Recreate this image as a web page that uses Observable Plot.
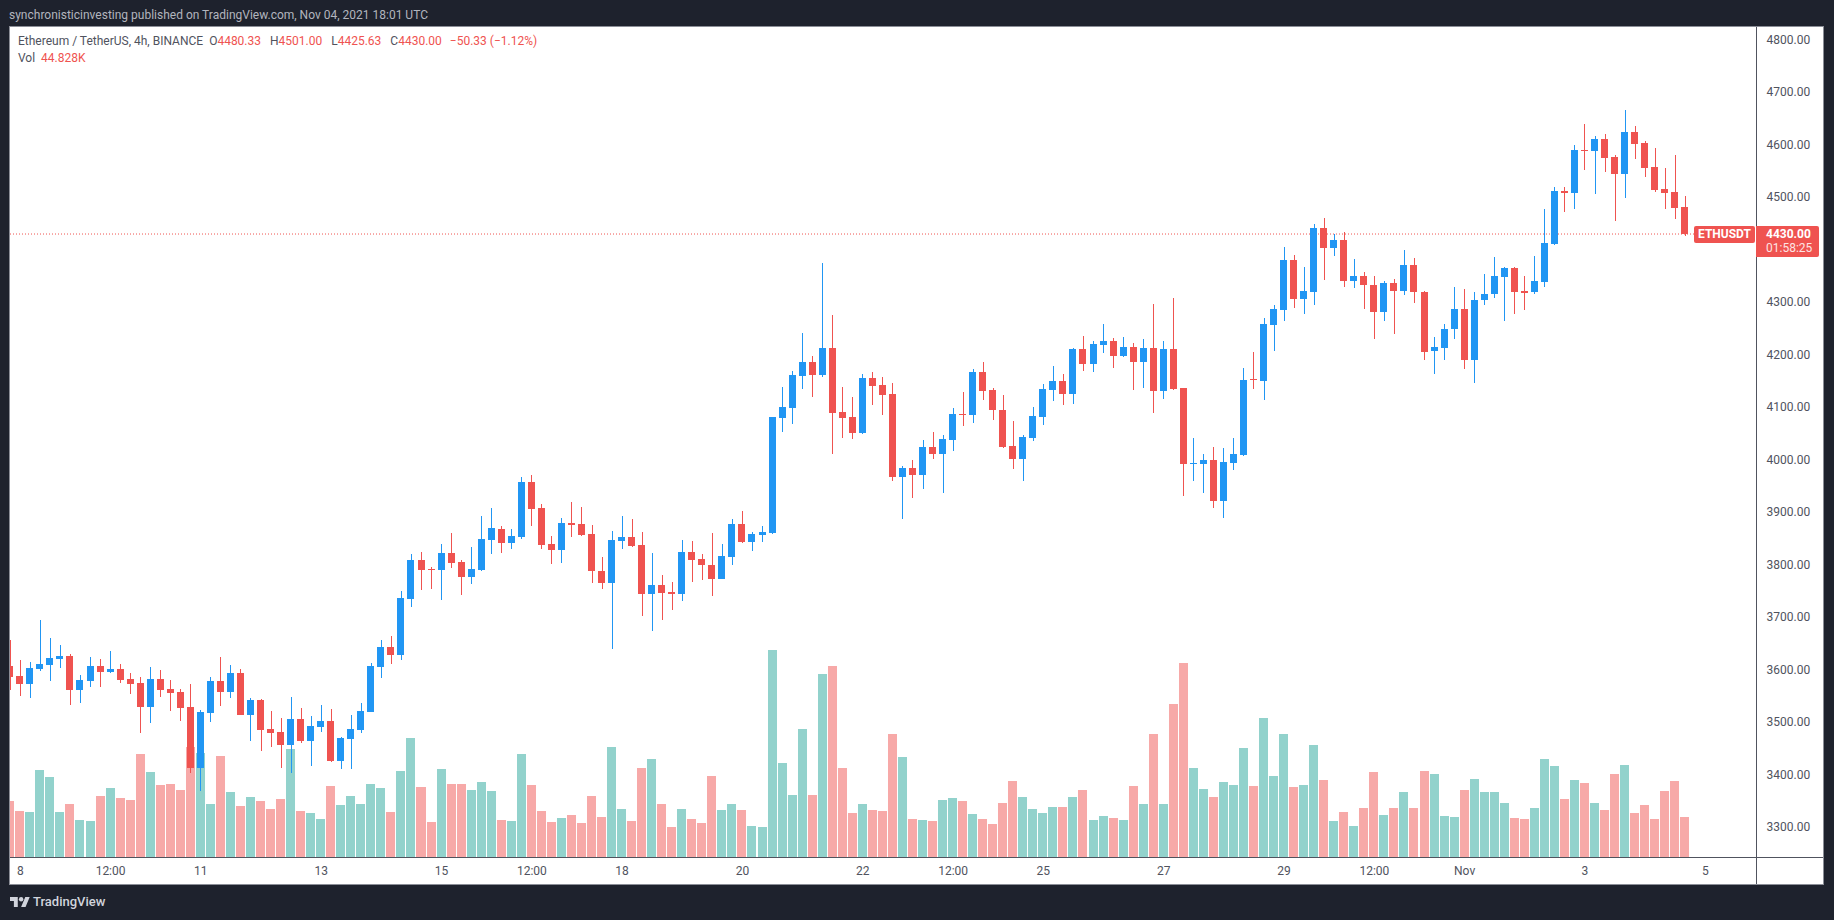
<!DOCTYPE html>
<html><head><meta charset="utf-8">
<script src="https://cdn.jsdelivr.net/npm/d3@7"></script>
<script src="https://cdn.jsdelivr.net/npm/@observablehq/plot@0.6"></script>
<style>
html,body{margin:0;padding:0;background:#1e222d;width:1834px;height:920px;overflow:hidden;font-family:Roboto,"Noto Sans",sans-serif;}
#title{position:absolute;left:9px;top:7px;font-size:12px;line-height:16px;color:#b2b5be;white-space:pre;}
#panel{position:absolute;left:9px;top:26px;width:1813px;height:857px;background:#fff;border:1px solid #8b8e97;overflow:hidden;}
#panel svg{position:absolute;left:0;top:0;}
.vline{position:absolute;left:1746px;top:0;width:1px;height:857px;background:#50535e;}
.hline{position:absolute;left:0;top:830px;width:1813px;height:1px;background:#50535e;}
#legend{position:absolute;left:8px;top:6px;font-size:12px;line-height:17px;color:#50535e;white-space:pre;}
#legend .v{color:#ef5350;}
#legend .k{margin-left:6px;}
#legend .k2{margin-left:9px;}
.tag{position:absolute;background:#ef5350;color:#fff;border-radius:2px;font-size:12px;font-weight:bold;}
#logo{position:absolute;left:10px;top:894px;display:flex;align-items:center;color:#d1d4dc;font-size:13px;font-weight:500;}
#logo svg{margin-right:3px;}
</style></head>
<body>
<div id="title">synchronisticinvesting published on TradingView.com, Nov 04, 2021 18:01 UTC</div>
<div id="panel"></div>
<div id="logo"><svg width="20" height="10" viewBox="0 4 36 18"><path d="M14 22H7V11H0V4h14v18zM28 22h-8l7.5-18h8L28 22z" fill="#d1d4dc"/><circle cx="20" cy="8" r="4" fill="#d1d4dc"/></svg>TradingView</div>
<script>
// ---- data: ETH/USDT 4h candles, Oct 7 20:00 -> Nov 4 16:00 (UTC) ----
const symbolName = "Ethereum / TetherUS, 4h, BINANCE";
const tickerName = "ETHUSDT";
const countdown = "01:58:25";
const opens = [
 3606.0,3587.8,3572.5,3601.1,3608.7,3620.1,3625.2,3561.1,3578.2,3606.2,
 3595.4,3600.5,3581.4,3573.8,3528.7,3581.4,3562.4,3556.6,3528.7,3412.5,
 3517.3,3577.6,3557.3,3592.8,3513.5,3541.4,3486.2,3480.4,3456.3,3505.2,
 3463.9,3490.6,3501.4,3425.8,3467.7,3484.9,3519.2,3604.9,3642.4,3627.8,
 3734.4,3808.1,3791.6,3789.7,3821.4,3804.3,3776.3,3789.7,3846.8,3867.2,
 3841.1,3852.6,3956.7,3907.2,3838.6,3827.8,3878.6,3876.6,3857.4,3787.0,
 3764.8,3845.2,3852.1,3836.8,3744.2,3760.2,3747.2,3744.2,3823.0,3810.0,
 3798.5,3772.5,3814.6,3876.6,3842.1,3855.9,3859.7,4078.6,4097.8,4159.0,
 4185.0,4160.6,4211.8,4090.1,4080.2,4050.3,4154.9,4141.8,4124.3,3965.3,
 3983.6,3970.4,4023.7,4010.5,4037.5,4086.4,4083.4,4166.5,4132.3,4093.6,
 4025.1,3999.6,4041.2,4081.3,4132.3,4149.0,4124.3,4210.3,4181.1,4218.3,
 4225.6,4197.2,4213.9,4185.5,4211.7,4130.4,4209.7,4135.3,3990.0,3991.6,
 3998.2,3920.5,3993.2,4008.1,4152.7,4149.4,4256.0,4284.0,4379.9,4305.5,
 4318.8,4440.2,4403.0,4417.9,4339.4,4349.3,4332.0,4280.8,4336.1,4320.4,
 4370.0,4317.9,4206.4,4212.2,4247.5,4286.4,4189.7,4302.5,4313.9,4348.0,
 4364.1,4319.6,4317.7,4338.5,4409.6,4511.0,4508.1,4589.6,4586.8,4610.5,
 4575.4,4543.2,4623.7,4602.9,4557.4,4514.8,4509.1,4480.33];
const highs = [
 3655.7,3617.6,3613.8,3693.8,3659.5,3646.2,3629.0,3589.0,3623.3,3620.1,
 3634.8,3610.0,3592.8,3585.2,3604.3,3598.6,3579.5,3562.4,3571.9,3522.4,
 3585.2,3623.3,3608.1,3600.5,3545.2,3543.3,3520.5,3506.5,3547.1,3526.2,
 3510.9,3531.9,3524.3,3470.0,3512.8,3535.7,3611.3,3655.7,3663.3,3749.0,
 3819.5,3823.3,3794.8,3838.6,3859.5,3808.1,3832.9,3891.9,3907.2,3872.9,
 3867.2,3966.2,3970.0,3914.8,3853.8,3888.1,3918.6,3908.7,3875.0,3813.8,
 3863.6,3891.9,3885.8,3861.3,3821.5,3779.4,3766.4,3846.0,3844.4,3819.2,
 3859.7,3838.3,3885.8,3901.1,3861.3,3872.8,4080.2,4137.6,4168.2,4240.2,
 4196.5,4374.1,4275.4,4137.6,4118.5,4162.1,4166.5,4157.1,4145.4,3987.2,
 3998.9,4036.8,4052.1,4046.3,4097.3,4127.9,4171.6,4185.5,4135.9,4122.1,
 4073.2,4046.3,4099.5,4143.2,4177.5,4162.2,4211.7,4235.1,4225.6,4257.7,
 4230.7,4232.9,4221.2,4229.2,4296.3,4225.4,4307.2,4135.3,4040.3,4009.8,
 4023.0,4021.3,4040.3,4174.2,4204.7,4269.2,4294.0,4404.7,4389.0,4366.7,
 4448.5,4459.2,4429.5,4433.6,4382.4,4356.8,4349.3,4340.2,4343.5,4398.9,
 4384.0,4319.6,4232.8,4258.4,4328.1,4324.3,4318.6,4352.7,4385.0,4366.0,
 4366.0,4349.9,4386.9,4476.9,4518.6,4518.6,4599.1,4638.9,4616.2,4620.0,
 4579.2,4665.4,4635.1,4606.7,4593.4,4554.6,4579.2,4501.00];
const lows = [
 3560.5,3549.0,3545.9,3597.3,3578.2,3603.0,3532.5,3536.3,3566.8,3566.8,
 3593.5,3574.4,3553.5,3479.2,3498.2,3547.8,3521.1,3501.4,3403.0,3368.7,
 3500.1,3530.6,3545.9,3512.0,3464.0,3444.9,3452.5,3412.5,3401.7,3460.1,
 3416.3,3480.4,3423.9,3410.6,3410.6,3479.2,3519.2,3583.9,3610.6,3618.2,
 3719.2,3751.6,3753.5,3732.5,3793.5,3742.1,3763.0,3787.8,3820.2,3822.1,
 3829.7,3848.7,3873.5,3829.7,3801.1,3803.0,3852.6,3853.6,3764.1,3753.4,
 3639.3,3829.1,3833.0,3702.1,3673.7,3694.4,3713.5,3730.4,3766.4,3770.2,
 3740.4,3772.5,3799.3,3840.6,3826.1,3842.9,3857.4,4052.6,4067.9,4133.8,
 4118.5,4156.7,4009.8,4040.4,4038.9,4048.0,4102.4,4084.9,3959.5,3886.6,
 3926.7,3944.2,3999.6,3936.2,4016.4,4063.8,4068.1,4113.3,4074.7,4022.2,
 3982.1,3959.5,4035.3,4065.2,4111.1,4103.9,4105.3,4168.0,4166.5,4203.0,
 4173.8,4195.7,4132.3,4135.9,4087.8,4114.7,4132.0,3929.6,3958.5,3935.4,
 3907.3,3888.3,3979.2,4006.5,4133.7,4113.0,4206.4,4264.2,4287.4,4276.6,
 4294.0,4341.9,4386.5,4328.7,4326.2,4286.5,4228.7,4264.2,4238.6,4312.1,
 4297.3,4189.0,4162.6,4189.0,4228.6,4172.7,4144.3,4293.0,4306.3,4262.7,
 4276.0,4283.6,4313.9,4328.1,4407.7,4471.2,4476.9,4550.8,4506.2,4548.0,
 4453.2,4497.7,4571.6,4537.5,4510.0,4476.0,4457.9,4425.63];
const closes = [
 3585.9,3572.5,3602.4,3610.0,3621.4,3625.2,3561.1,3579.5,3606.2,3595.4,
 3600.5,3580.1,3572.5,3528.7,3581.4,3561.1,3555.4,3526.8,3412.5,3518.5,
 3577.6,3557.3,3592.8,3513.5,3541.4,3484.3,3478.5,3455.7,3505.2,3463.9,
 3491.9,3501.4,3425.8,3469.0,3486.2,3520.5,3606.2,3642.4,3627.8,3735.7,
 3808.1,3789.7,3789.7,3821.4,3803.0,3776.3,3791.0,3848.1,3869.1,3841.1,
 3853.8,3956.7,3905.9,3837.3,3827.8,3878.6,3875.4,3855.1,3786.3,3764.8,
 3846.0,3852.1,3834.5,3744.2,3760.2,3745.7,3744.2,3823.0,3808.5,3797.7,
 3772.5,3815.3,3876.6,3842.1,3857.4,3861.3,4080.2,4099.3,4160.6,4185.0,
 4160.6,4211.8,4087.8,4078.6,4050.3,4154.4,4140.3,4122.8,3965.3,3983.6,
 3970.4,4023.7,4010.5,4038.2,4086.4,4083.4,4166.5,4130.8,4092.9,4023.7,
 3999.6,4042.6,4082.7,4133.7,4149.0,4124.3,4210.3,4181.1,4219.8,4225.6,
 4197.2,4213.9,4185.5,4211.7,4130.1,4209.7,4133.7,3990.0,3993.2,3998.2,
 3920.5,3994.9,4009.8,4151.0,4150.2,4256.8,4286.5,4379.9,4305.5,4320.4,
 4440.2,4403.0,4417.9,4339.4,4349.3,4331.1,4280.8,4336.1,4320.4,4370.0,
 4317.9,4204.7,4213.8,4248.5,4286.4,4189.7,4303.4,4314.8,4348.9,4364.1,
 4317.7,4316.7,4339.5,4412.4,4511.0,4508.1,4588.7,4586.8,4610.5,4573.5,
 4543.2,4623.7,4601.0,4554.6,4512.9,4507.2,4478.8,4430.00];
const volumes = [ // thousands
 61.9,50.8,49.7,96.4,88.6,49.7,58.6,40.8,39.7,67.5,
 76.4,65.3,63.0,114.2,94.2,79.7,80.8,74.2,122.0,115.3,
 58.6,112.0,71.9,56.4,66.4,61.9,53.0,64.1,119.8,50.8,
 48.6,41.9,78.6,57.5,67.5,58.6,80.8,76.4,49.7,95.3,
 132.0,77.5,38.6,97.5,80.8,80.8,74.2,83.1,73.0,40.8,
 39.7,114.2,79.7,50.8,38.6,43.0,46.4,37.5,67.5,44.2,
 122.0,53.2,39.8,98.8,108.6,58.5,33.1,53.2,42.0,37.5,
 89.8,51.8,58.5,51.8,34.0,33.1,229.7,104.1,68.8,142.1,
 68.8,203.3,212.3,98.8,48.7,58.5,52.4,51.1,137.1,111.1,
 42.1,41.3,40.0,63.4,65.6,62.2,47.7,42.1,36.6,60.0,
 84.7,66.8,53.6,49.0,55.8,55.8,66.8,74.5,41.3,45.5,
 43.4,41.3,79.2,59.2,137.1,58.9,170.3,215.6,98.9,75.7,
 66.6,83.5,80.1,121.1,79.1,154.9,90.2,137.0,77.7,80.1,
 124.5,85.9,40.0,50.2,34.7,54.5,94.6,46.8,54.5,72.4,
 54.5,95.5,92.1,45.8,44.8,74.7,86.9,72.5,72.5,60.3,
 43.7,42.6,54.8,109.0,101.3,64.7,85.8,82.4,60.3,52.6,
 92.4,102.4,49.2,58.1,42.6,73.6,84.7,44.828];
// x-axis tick labels, at candle index positions (index 0 = Oct 7 20:00)
const tickPos    = [1, 10, 19, 31, 43, 52, 61, 73, 85, 94, 103, 115, 127, 136, 145, 157, 169];
const tickLabels = ["8","12:00","11","13","15","12:00","18","20","22","12:00","25","27","29","12:00","Nov","3","5"];
const yTicks = [3300,3400,3500,3600,3700,3800,3900,4000,4100,4200,4300,4400,4500,4600,4700,4800];

// ---- layout ----
const UP = "#2196f3", DOWN = "#ef5350", VUP = "#92d2cc", VDOWN = "#f7a9a8";
const W = 1813, H = 857, MR = 67, MB = 27;
const xDomain = [0.023, 174.1];
const yDomain = [3242.3, 4823.4];
const volDomain = [0, 923.2];

const candles = opens.map((o, k) => ({k, o, h: highs[k], l: lows[k], c: closes[k], v: volumes[k], up: closes[k] >= o}));
const n = candles.length;
const last = candles[n - 1];

const panel = document.getElementById("panel");

const volChart = Plot.plot({
  width: W, height: H, marginLeft: 0, marginRight: MR, marginTop: 0, marginBottom: MB,
  x: {type: "linear", domain: xDomain, axis: null},
  y: {domain: volDomain, axis: null},
  color: {type: "identity"},
  style: {background: "transparent"},
  marks: [
    Plot.rect(candles, {x1: d => d.k - 0.449, x2: d => d.k + 0.449, y1: 0, y2: "v",
      fill: d => d.up ? VUP : VDOWN, clip: true, shapeRendering: "crispEdges"})
  ]
});
panel.appendChild(volChart);

const priceChart = Plot.plot({
  width: W, height: H, marginLeft: 0, marginRight: MR, marginTop: 0, marginBottom: MB,
  x: {type: "linear", domain: xDomain},
  y: {domain: yDomain},
  color: {type: "identity"},
  style: {background: "transparent", fontFamily: "Roboto, sans-serif", fontSize: "12px", color: "#50535e"},
  marks: [
    Plot.ruleY([last.c], {stroke: DOWN, strokeDasharray: "1,2"}),
    Plot.ruleX(candles, {x: "k", y1: "l", y2: "h", stroke: d => d.up ? UP : DOWN, clip: true, shapeRendering: "crispEdges"}),
    Plot.rect(candles, {x1: d => d.k - 0.349, x2: d => d.k + 0.349, y1: "o", y2: "c",
      fill: d => d.up ? UP : DOWN, clip: true, shapeRendering: "crispEdges"}),
    Plot.axisY({anchor: "right", ticks: yTicks, tickSize: 0, tickPadding: 10, tickFormat: d => d.toFixed(2), label: null}),
    Plot.axisX({ticks: tickPos, tickSize: 0, tickPadding: 9, tickFormat: d => tickLabels[tickPos.indexOf(d)], label: null})
  ]
});
panel.appendChild(priceChart);

// axis separators
const vl = document.createElement("div"); vl.className = "vline"; panel.appendChild(vl);
const hl = document.createElement("div"); hl.className = "hline"; panel.appendChild(hl);

// legend
const chg = last.c - last.o;
const pct = chg / last.o * 100;
const fmtS = v => (v < 0 ? "\u2212" : "+") + Math.abs(v).toFixed(2);
const legend = document.createElement("div");
legend.id = "legend";
legend.innerHTML =
  `<span>${symbolName}</span>` +
  `<span class="k">O</span><span class="v">${last.o.toFixed(2)}</span>` +
  `<span class="k2">H</span><span class="v">${last.h.toFixed(2)}</span>` +
  `<span class="k2">L</span><span class="v">${last.l.toFixed(2)}</span>` +
  `<span class="k2">C</span><span class="v">${last.c.toFixed(2)}</span>` +
  `<span class="v" style="margin-left:8px">${fmtS(chg)} (${fmtS(pct)}%)</span>\n` +
  `Vol <span class="v" style="margin-left:3px">${last.v.toFixed(3)}K</span>`;
panel.appendChild(legend);

// last-price tags positioned from the y scale
const yc = priceChart.scale("y").apply(last.c);
const tag1 = document.createElement("div");
tag1.className = "tag";
tag1.style.cssText = `left:1684px;top:${yc - 8}px;width:61px;height:17px;line-height:17px;text-align:center;`;
tag1.textContent = tickerName;
panel.appendChild(tag1);
const tag2 = document.createElement("div");
tag2.className = "tag";
tag2.style.cssText = `left:1746px;top:${yc - 8}px;width:63px;height:31px;border-radius:0 2px 2px 0;`;
tag2.innerHTML = `<div style="position:absolute;left:10px;top:0;line-height:16px">${last.c.toFixed(2)}</div>` +
  `<div style="position:absolute;left:10px;top:14px;line-height:16px;font-weight:normal;color:#fde4e3">${countdown}</div>`;
panel.appendChild(tag2);
</script>
</body></html>
